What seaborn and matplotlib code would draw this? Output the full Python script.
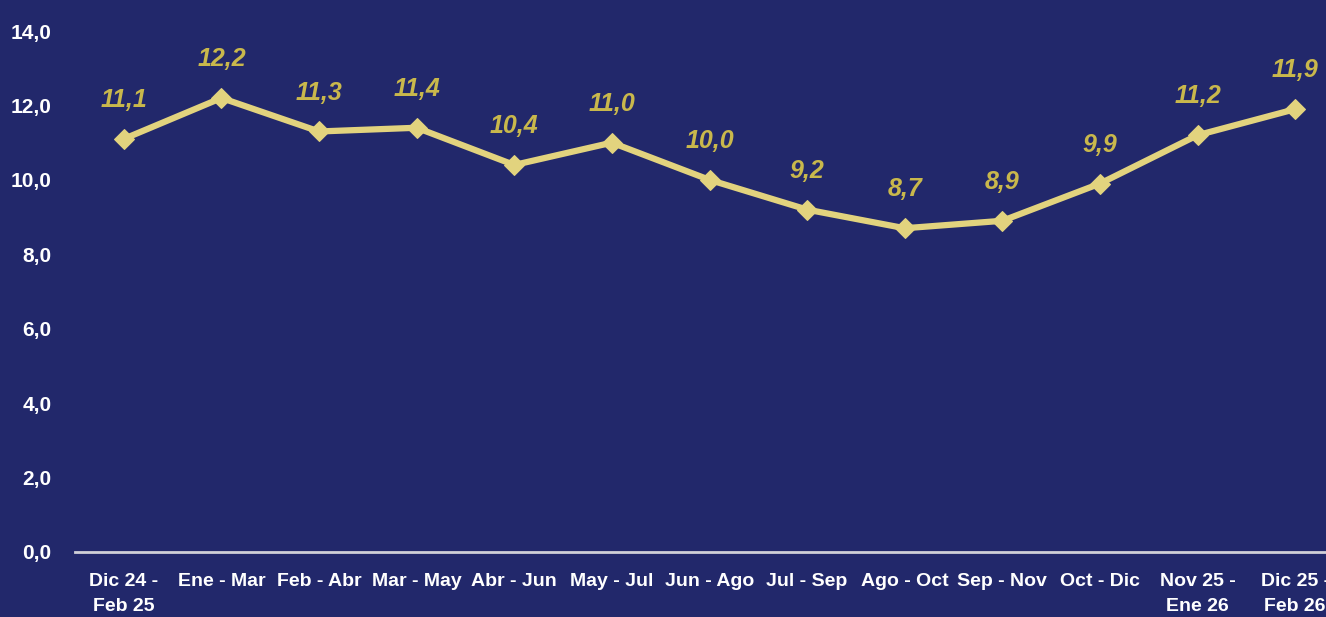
import pandas as pd
import matplotlib
matplotlib.use("Agg")
import matplotlib.pyplot as plt
import seaborn as sns

periods = ["Dic 24 -\nFeb 25", "Ene - Mar", "Feb - Abr", "Mar - May", "Abr - Jun",
           "May - Jul", "Jun - Ago", "Jul - Sep", "Ago - Oct", "Sep - Nov",
           "Oct - Dic", "Nov 25 -\nEne 26", "Dic 25 -\nFeb 26"]
values = [11.1, 12.2, 11.3, 11.4, 10.4, 11.0, 10.0, 9.2, 8.7, 8.9, 9.9, 11.2, 11.9]
yticks = [0, 2, 4, 6, 8, 10, 12, 14]

bg = "#22286B"
line_color = "#E2D37E"
label_color = "#C9B84C"

sns.set_style("white")
plt.rcParams["font.family"] = ["Liberation Sans", "DejaVu Sans"]

df = pd.DataFrame({"period": periods, "value": values, "pos": range(len(periods))})

fig = plt.figure(figsize=(13.26, 6.17), dpi=100, facecolor=bg)
ax = fig.add_axes([75 / 1326, 65 / 617, 1269 / 1326, 521 / 617])
ax.set_facecolor(bg)

sns.lineplot(data=df, x="pos", y="value", ax=ax, sort=False, color=line_color,
             linewidth=4.5, marker="D", markersize=10, markeredgecolor=line_color)

for x, v in zip(df["pos"], df["value"]):
    ax.annotate(f"{v:.1f}".replace(".", ","), (x, v), xytext=(0, 28),
                textcoords="offset points", ha="center", va="center",
                fontsize=18, fontstyle="italic", fontweight="bold", color=label_color)

ax.set_xlim(-0.5, len(periods) - 0.5)
ax.set_ylim(0, 14)
ax.set_yticks(yticks)
ax.set_yticklabels([f"{t:.1f}".replace(".", ",") for t in yticks])
ax.set_xticks(df["pos"])
ax.set_xticklabels(periods)
ax.tick_params(axis="both", length=0, colors="white")
ax.tick_params(axis="y", pad=17, labelsize=15)
ax.tick_params(axis="x", pad=15, labelsize=14)
for lab in ax.get_xticklabels():
    lab.set_fontweight("bold")
    lab.set_linespacing(1.6)
for lab in ax.get_yticklabels():
    lab.set_fontweight("bold")
ax.set_xlabel("")
ax.set_ylabel("")

for side in ["left", "right", "top"]:
    ax.spines[side].set_visible(False)
ax.spines["bottom"].set_color("#D0D0D8")
ax.spines["bottom"].set_linewidth(2)

fig.savefig("out.png", dpi=100, facecolor=bg)
